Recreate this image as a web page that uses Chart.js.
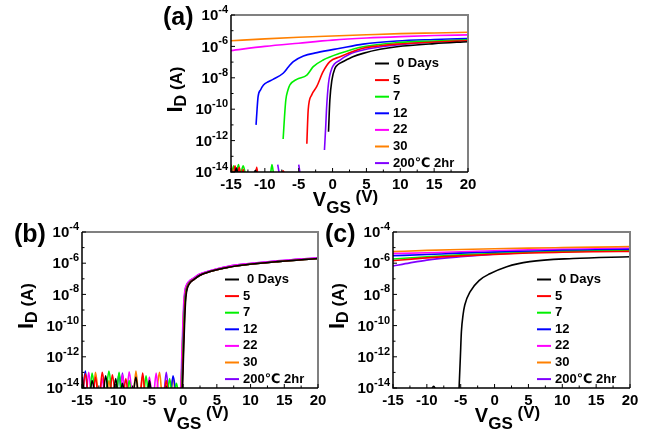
<!DOCTYPE html>
<html>
<head>
<meta charset="utf-8">
<title>Transfer curves</title>
<script src="https://cdn.jsdelivr.net/npm/chart.js@4.4.1/dist/chart.umd.min.js"></script>
<style>
  body { margin: 0; background: #fff; }
  #wrap { position: relative; width: 651px; height: 434px; }
  canvas { position: absolute; left: 0; top: 0; }
</style>
</head>
<body>
<div id="wrap">
  <canvas id="chartA" width="651" height="434"></canvas>
  <canvas id="chartB" width="651" height="434"></canvas>
  <canvas id="chartC" width="651" height="434"></canvas>
</div>
<script>
// legend order: storage time, then anneal
const seriesLabels = ['0 Days', '5', '7', '12', '22', '30', '200℃ 2hr'];
const seriesColors = ['#000000', '#ff0000', '#00f000', '#0000ff', '#ff00ff', '#ff8000', '#8000ff'];

const xTicks = [-15, -10, -5, 0, 5, 10, 15, 20];
const yDecades = [-14, -13, -12, -11, -10, -9, -8, -7, -6, -5, -4];
const yLabelled = [-14, -12, -10, -8, -6, -4];

// ---- panel (a) : VGS (V) / ID (A), null = break in the trace
const aV0 = [-14.4, -14.2, -14.0, -13, -11.6, -11.4, -11.2, -5, -0.6, -0.4, -0.1, 0.35, 0.8, 1.6, 3, 4.5, 7, 9.5, 15, 20];
const aI0 = [8e-15, 1.8e-14, 8e-15, null, 8e-15, 1.3e-14, 8e-15, null, 3.7e-12, 3.9e-10, 7.2e-9, 4e-8, 7e-8, 1.1e-7, 2.2e-7, 3.6e-7, 6.5e-7, 9.5e-7, 1.5e-6, 2.0e-6];
const aV1 = [-15, -14.7, -14.4, -14.1, -13.8, -13.5, -13.2, -12.9, -12, -11.4, -11.2, -11.0, -9, -7.5, -7.3, -7.1, -5, -3.8, -3.6, -3.1, -2.35, -1.4, -0.4, 1.1, 2.5, 4.5, 7, 9.5, 15, 20];
const aI1 = [3e-14, 5e-15, 2.5e-14, 4e-15, 2e-14, 6e-15, 1.5e-14, 3e-15, null, 5e-15, 2e-14, 4e-15, null, 8e-15, 1.2e-14, 8e-15, null, 6.3e-13, 8.9e-11, 7.9e-10, 2.7e-9, 2.45e-8, 1.07e-7, 2.2e-7, 4e-7, 7.6e-7, 1.1e-6, 1.4e-6, 1.9e-6, 2.3e-6];
const aV2 = [-15, -14.6, -14.3, -13.9, -13.6, -13.2, -12.8, -11, -9.2, -8.95, -8.7, -8, -7.3, -7.1, -6.9, -6.6, -6.3, -5.3, -3.8, -2.85, -1.4, 1.1, 4.5, 9.5, 15, 20];
const aI2 = [4e-15, 2.5e-14, 5e-15, 3e-14, 8e-15, 2.5e-14, 5e-15, null, 5e-15, 3e-14, 6e-15, null, 1.26e-12, 3.2e-11, 4e-10, 1.6e-9, 3.5e-9, 7.9e-9, 1.5e-8, 5.1e-8, 1.35e-7, 3.6e-7, 9.5e-7, 1.74e-6, 2.2e-6, 2.6e-6];
const aV3 = [-11.3, -11.15, -11.0, -10.6, -10.2, -9.5, -8.8, -7.3, -6.5, -5.8, -4.3, -2.3, 1.1, 4.5, 9.5, 15, 20];
const aI3 = [1e-11, 1e-10, 6.3e-10, 1.8e-9, 3.5e-9, 5.6e-9, 7.9e-9, 1.95e-8, 5.1e-8, 1.07e-7, 2.45e-7, 4e-7, 7.6e-7, 1.4e-6, 2.2e-6, 2.75e-6, 3.2e-6];
const aV4 = [-15, -10, -5, 0, 5, 10, 15, 20];
const aI4 = [5.4e-7, 1.0e-6, 1.6e-6, 2.5e-6, 3.4e-6, 4.2e-6, 4.9e-6, 5.4e-6];
const aV5 = [-15, -10, -5, 0, 5, 10, 15, 20];
const aI5 = [2.3e-6, 3.0e-6, 3.8e-6, 4.6e-6, 5.5e-6, 6.5e-6, 7.2e-6, 7.9e-6];
const aV6 = [-8.1, -7.8, -6, -5.0, -4.7, -3, -1.2, -1.0, -0.9, -0.6, -0.1, 1.1, 2.5, 4.5, 9.5, 15, 20];
const aI6 = [3e-14, 5e-15, null, 3e-14, 4e-15, null, 2.5e-13, 1e-11, 8.9e-11, 4.5e-9, 4e-8, 1.35e-7, 3.2e-7, 5.9e-7, 1.23e-6, 2e-6, 2.8e-6];

// ---- panel (b) : off-state noise, then turn-on
const bNoiseV = [-15, -14.5, -14, -13.5, -13, -12.5, -12, -11.5, -11, -10.5, -10, -9.5, -9, -8.5, -8, -7.5, -7, -6.5, -6, -5.5, -5, -4.5, -4, -3.5, -3, -2.5, -2, -1.5, -1];
const bNoise0 = [5e-14, 2e-15, 1e-15, 3e-14, 2e-15, 1e-15, 1e-15, 6e-14, 2e-15, 1e-15, 4e-14, 1e-15, 2e-14, 1e-15, 1e-15, 2e-15, 5e-14, 1e-15, 1e-15, 1e-15, 3e-14, 1e-15, 1e-15, 1e-15, 2e-15, 1e-15, 1e-15, 3e-15, 2e-15];
const bNoise1 = [1e-15, 8e-14, 2e-15, 1e-15, 5e-14, 1e-15, 1e-13, 3e-15, 1e-15, 7e-14, 2e-15, 1e-15, 1e-15, 4e-14, 1e-15, 1e-15, 2e-15, 1e-15, 9e-14, 1e-15, 1e-15, 2e-15, 1e-15, 1e-15, 1e-15, 3e-14, 1e-15, 1e-15, 2e-15];
const bNoise2 = [3e-14, 1e-15, 1e-15, 9e-14, 2e-15, 1e-15, 1e-15, 3e-15, 1.2e-13, 2e-15, 1e-15, 1e-13, 1e-15, 1e-15, 3e-14, 1e-15, 1e-15, 2e-15, 1e-15, 6e-14, 1e-15, 1e-15, 1e-15, 2e-15, 1e-15, 1e-15, 4e-14, 1e-15, 2e-14];
const bNoise3 = [1e-15, 1.2e-13, 1e-15, 1e-15, 2e-15, 1e-15, 1e-15, 5e-15, 1e-15, 1e-15, 2e-15, 8e-14, 1e-15, 1e-15, 1e-15, 1e-15, 3e-15, 1e-15, 1e-15, 2e-15, 1e-15, 1e-15, 1e-15, 1e-15, 2e-15, 1e-15, 1e-15, 6e-14, 3e-15];
const bNoise4 = [2e-15, 1e-15, 1e-13, 1e-15, 1e-15, 1e-15, 4e-14, 1e-15, 1e-15, 2e-15, 1e-15, 1e-15, 7e-14, 1e-15, 1.1e-13, 2e-15, 1e-15, 1e-15, 1e-15, 1e-15, 5e-14, 1e-15, 9e-14, 1e-15, 1e-15, 2e-15, 1e-15, 1e-15, 1e-15];
const bNoise5 = [8e-14, 1e-15, 1e-15, 1e-15, 1e-13, 2e-15, 1e-15, 1e-15, 3e-14, 1e-15, 1e-15, 1e-15, 1e-15, 2e-15, 1e-15, 1e-15, 1.2e-13, 1e-15, 6e-14, 1e-15, 1e-15, 1e-15, 3e-15, 1e-13, 1e-15, 1e-15, 1e-15, 5e-14, 1e-15];
const bNoise6 = [1e-15, 1e-15, 2e-15, 1e-15, 1e-15, 1e-15, 2e-15, 1e-15, 1e-15, 1e-15, 1e-15, 1e-15, 9e-14, 1e-15, 1e-15, 1e-15, 2e-15, 1e-15, 1e-15, 1e-15, 1e-15, 1e-15, 1e-15, 1e-15, 1e-15, 1e-13, 1e-15, 1e-15, 1e-15];
// turn-on part; 22 days and the annealed device sit a little higher
const bRiseI = [1e-15, 1e-14, 1e-12, 1e-10, 3e-9, 1.4e-8, 3.5e-8, 6e-8, 9e-8, 1.7e-7, 2.9e-7, 4.8e-7, 7.6e-7, 1.26e-6, 2.0e-6];
const bRiseIHi = [1e-15, 1e-14, 1e-12, 1e-10, 3.5e-9, 1.7e-8, 4.2e-8, 7e-8, 1.05e-7, 1.95e-7, 3.3e-7, 5.5e-7, 8.7e-7, 1.43e-6, 2.25e-6];
const bRiseV0 = [-0.35, -0.1, 0.05, 0.2, 0.35, 0.5, 0.75, 1.1, 1.6, 2.5, 4, 6, 9, 14, 20];
const bRiseV1 = [-0.4, -0.15, 0.0, 0.15, 0.3, 0.45, 0.7, 1.05, 1.6, 2.5, 4, 6, 9, 14, 20];
const bRiseV2 = [-0.45, -0.2, -0.05, 0.1, 0.25, 0.4, 0.65, 1.0, 1.55, 2.5, 4, 6, 9, 14, 20];
const bRiseV3 = [-0.45, -0.2, -0.05, 0.1, 0.25, 0.4, 0.65, 1.0, 1.55, 2.5, 4, 6, 9, 14, 20];
const bRiseV4 = [-0.6, -0.35, -0.2, -0.05, 0.1, 0.25, 0.5, 0.9, 1.5, 2.4, 4, 6, 9, 14, 20];
const bRiseV5 = [-0.55, -0.3, -0.15, 0.0, 0.15, 0.3, 0.55, 0.95, 1.5, 2.4, 4, 6, 9, 14, 20];
const bRiseV6 = [-0.55, -0.3, -0.15, 0.0, 0.15, 0.3, 0.55, 0.9, 1.5, 2.4, 4, 6, 9, 14, 20];

// ---- panel (c)
const cV0 = [-9.3, -9.0, -8.7, -7, -5.25, -5.05, -4.9, -4.65, -4.4, -3.6, -2.2, -0.7, 1.8, 5.2, 11.6, 20];
const cI0 = [8e-15, 1.3e-14, 8e-15, null, 8e-15, 1e-12, 4e-11, 5e-10, 2.1e-9, 1.5e-8, 8.3e-8, 2.1e-7, 6e-7, 1.26e-6, 2.0e-6, 2.6e-6];
const cV = [-15, -10, -5, 0, 5, 10, 15, 20];
const cI1 = [1.45e-6, 2.2e-6, 2.95e-6, 3.7e-6, 4.5e-6, 5.0e-6, 5.4e-6, 5.75e-6];
const cI2 = [1.86e-6, 2.6e-6, 3.4e-6, 4.2e-6, 4.9e-6, 5.5e-6, 5.9e-6, 6.3e-6];
const cI3 = [3.0e-6, 3.6e-6, 4.4e-6, 5.1e-6, 5.9e-6, 6.6e-6, 7.2e-6, 7.8e-6];
const cI4 = [4.1e-6, 4.7e-6, 5.4e-6, 6.3e-6, 7.1e-6, 7.8e-6, 8.3e-6, 8.9e-6];
const cI5 = [5.5e-6, 6.6e-6, 7.6e-6, 8.5e-6, 9.3e-6, 1.0e-5, 1.07e-5, 1.15e-5];
const cV6 = [-15, -12.5, -10, -5, 0, 5, 10, 15, 20];
const cI6 = [6.6e-7, 1.05e-6, 1.58e-6, 2.6e-6, 3.8e-6, 4.9e-6, 5.9e-6, 6.6e-6, 7.1e-6];

const FONT = "'Liberation Sans', Arial, 'DejaVu Sans', sans-serif";

function buildDatasets(vList, iList) {
  return vList.map((v, n) => ({
    label: seriesLabels[n],
    data: v.map((x, k) => ({ x: x, y: iList[n][k] })),
    borderColor: seriesColors[n],
    borderWidth: 1.6,
    pointRadius: 0,
    fill: false,
    cubicInterpolationMode: 'monotone',
    clip: 0
  }));
}

// draws "10" with a raised exponent, right edge at xRight
function drawPow(ctx, exp, xRight, y) {
  ctx.font = 'bold 15px ' + FONT;
  const wb = ctx.measureText('10').width;
  ctx.font = 'bold 11px ' + FONT;
  const ws = ctx.measureText(String(exp)).width;
  const x0 = xRight - wb - ws;
  ctx.textAlign = 'left';
  ctx.textBaseline = 'middle';
  ctx.font = 'bold 15px ' + FONT;
  ctx.fillText('10', x0, y + 1);
  ctx.font = 'bold 11px ' + FONT;
  ctx.fillText(String(exp), x0 + wb, y - 5);
}

// text made of pieces: [text, size, baseline shift]
function drawParts(ctx, parts, x, y) {
  ctx.textAlign = 'left';
  ctx.textBaseline = 'alphabetic';
  parts.forEach(p => {
    ctx.font = 'bold ' + p[1] + 'px ' + FONT;
    ctx.fillText(p[0], x, y + p[2]);
    x += ctx.measureText(p[0]).width;
  });
}
function partsWidth(ctx, parts) {
  let w = 0;
  parts.forEach(p => { ctx.font = 'bold ' + p[1] + 'px ' + FONT; w += ctx.measureText(p[0]).width; });
  return w;
}

function decoPlugin(tag) {
  return {
    id: 'panelDeco',
    afterDraw(chart) {
      const ctx = chart.ctx;
      const a = chart.chartArea;
      const xs = chart.scales.x, ys = chart.scales.y;
      ctx.save();
      ctx.lineCap = 'butt';

      // frame: grey top/right, black axes
      ctx.strokeStyle = '#808080';
      ctx.lineWidth = 2;
      ctx.beginPath();
      ctx.moveTo(a.left, a.top); ctx.lineTo(a.right, a.top); ctx.lineTo(a.right, a.bottom);
      ctx.stroke();
      ctx.strokeStyle = '#000';
      ctx.lineWidth = 1.5;
      ctx.beginPath();
      ctx.moveTo(a.left, a.top); ctx.lineTo(a.left, a.bottom); ctx.lineTo(a.right, a.bottom);
      ctx.stroke();

      // inward ticks
      ctx.lineWidth = 1;
      xTicks.forEach((v, k) => {
        const px = xs.getPixelForValue(v);
        ctx.beginPath(); ctx.moveTo(px, a.bottom); ctx.lineTo(px, a.bottom - 4); ctx.stroke();
        if (k < xTicks.length - 1) {
          const pm = xs.getPixelForValue((v + xTicks[k + 1]) / 2);
          ctx.beginPath(); ctx.moveTo(pm, a.bottom); ctx.lineTo(pm, a.bottom - 2.5); ctx.stroke();
        }
      });
      yDecades.forEach(d => {
        const py = ys.getPixelForValue(Math.pow(10, d));
        const len = yLabelled.includes(d) ? 4 : 2.5;
        ctx.beginPath(); ctx.moveTo(a.left, py); ctx.lineTo(a.left + len, py); ctx.stroke();
      });

      // tick labels
      ctx.fillStyle = '#000';
      yLabelled.forEach(d => drawPow(ctx, d, a.left - 3, ys.getPixelForValue(Math.pow(10, d))));
      ctx.font = 'bold 15px ' + FONT;
      ctx.textAlign = 'center';
      ctx.textBaseline = 'middle';
      xTicks.forEach(v => ctx.fillText(String(v), xs.getPixelForValue(v), a.bottom + 13));

      // x title  V_GS (V)
      const xParts = [['V', 20, 0], ['GS', 17, 7], [' (V)', 17, -4]];
      const xw = partsWidth(ctx, xParts);
      drawParts(ctx, xParts, (a.left + a.right) / 2 - 4 - xw / 2, a.bottom + 34);

      // y title  I_D (A)
      const yParts = [['I', 22, 0], ['D', 16, 4], [' (A)', 17, 0]];
      const yw = partsWidth(ctx, yParts);
      ctx.save();
      ctx.translate(a.left - 56, (a.top + a.bottom) / 2 - 4);
      ctx.rotate(-Math.PI / 2);
      drawParts(ctx, yParts, -yw / 2, 7);
      ctx.restore();

      // panel tag
      ctx.font = 'bold 25px ' + FONT;
      ctx.textAlign = 'left';
      ctx.textBaseline = 'middle';
      ctx.fillText(tag, a.left - 68, a.top + 3);

      // legend, lower right inside the frame
      ctx.font = 'bold 13px ' + FONT;
      seriesLabels.forEach((lab, n) => {
        const ry = a.bottom - 108.5 + n * 16.6;
        ctx.strokeStyle = seriesColors[n];
        ctx.lineWidth = 2;
        ctx.beginPath(); ctx.moveTo(a.right - 93, ry); ctx.lineTo(a.right - 79, ry); ctx.stroke();
        ctx.fillText(lab, a.right - 75 + (n === 0 ? 4 : 0), ry);
      });
      ctx.restore();
    }
  };
}

function makePanel(canvasId, tag, pad, vList, iList) {
  return new Chart(document.getElementById(canvasId), {
    type: 'line',
    data: { datasets: buildDatasets(vList, iList) },
    options: {
      responsive: false,
      animation: false,
      events: [],
      layout: { padding: pad },
      plugins: { legend: { display: false }, tooltip: { enabled: false } },
      scales: {
        x: { type: 'linear', min: -15, max: 20, display: false },
        y: { type: 'logarithmic', min: 1e-14, max: 1e-4, display: false }
      }
    },
    plugins: [decoPlugin(tag)]
  });
}

const join = (p, q) => p.concat(q);

makePanel('chartA', '(a)', { left: 231, top: 15, right: 183, bottom: 262 },
  [aV0, aV1, aV2, aV3, aV4, aV5, aV6],
  [aI0, aI1, aI2, aI3, aI4, aI5, aI6]);

makePanel('chartB', '(b)', { left: 82, top: 232, right: 333, bottom: 46 },
  [join(bNoiseV, bRiseV0), join(bNoiseV, bRiseV1), join(bNoiseV, bRiseV2), join(bNoiseV, bRiseV3),
   join(bNoiseV, bRiseV4), join(bNoiseV, bRiseV5), join(bNoiseV, bRiseV6)],
  [join(bNoise0, bRiseI), join(bNoise1, bRiseI), join(bNoise2, bRiseI), join(bNoise3, bRiseI),
   join(bNoise4, bRiseIHi), join(bNoise5, bRiseI), join(bNoise6, bRiseIHi)]);

makePanel('chartC', '(c)', { left: 393, top: 232, right: 21, bottom: 46 },
  [cV0, cV, cV, cV, cV, cV, cV6],
  [cI0, cI1, cI2, cI3, cI4, cI5, cI6]);
</script>
</body>
</html>
